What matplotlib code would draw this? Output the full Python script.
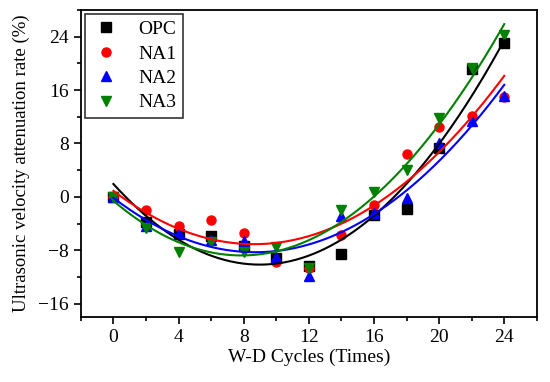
import numpy as np
import matplotlib.pyplot as plt
from matplotlib.ticker import MultipleLocator

plt.rcParams['font.family'] = ['Liberation Serif', 'DejaVu Serif']

# Données
cycles = [0, 2, 4, 6, 8, 10, 12, 14, 16, 18, 20, 22, 24]
opc = [0, -3.8, -5.5, -5.9, -7.4, -9.2, -10.3, -8.6, -2.7, -1.8, 7.3, 19.1, 23.1]
na1 = [0, -1.9, -4.4, -3.5, -5.4, -9.7, -10.7, -5.7, -1.2, 6.4, 10.4, 12.1, 15.0]
na2 = [0, -4.4, -5.4, -6.4, -6.6, -9.0, -11.9, -2.9, -2.4, -0.2, 8.1, 11.4, 15.1]
na3 = [0, -4.6, -8.2, -6.7, -8.2, -7.5, -10.7, -2.0, 0.8, 4.1, 11.8, 19.3, 24.3]

series = [
    ("OPC", opc, 's', 'black'),
    ("NA1", na1, 'o', 'red'),
    ("NA2", na2, '^', 'blue'),
    ("NA3", na3, 'v', 'green'),
]

fig = plt.figure(figsize=(5.5, 3.82), dpi=100)
ax = fig.add_axes([0.147, 0.170, 0.829, 0.804])

xs = np.linspace(0, 24, 200)
for nom, vals, m, c in series:
    ax.plot(cycles, vals, m, color=c, markersize=6.5, linestyle='none', label=nom)
for nom, vals, m, c in series:
    coef = np.polyfit(cycles, vals, 2)
    ax.plot(xs, np.polyval(coef, xs), color=c, linewidth=1.5)

ax.set_xlim(-2, 26)
ax.set_ylim(-18, 28)
ax.xaxis.set_major_locator(MultipleLocator(4))
ax.xaxis.set_minor_locator(MultipleLocator(2))
ax.yaxis.set_major_locator(MultipleLocator(8))
ax.yaxis.set_minor_locator(MultipleLocator(4))
ax.set_yticks([-16, -8, 0, 8, 16, 24])
ax.tick_params(which='both', direction='out', labelsize=14, width=1.2)
ax.tick_params(which='major', length=5)
ax.tick_params(which='minor', length=3)
for s in ax.spines.values():
    s.set_linewidth(1.3)

ax.set_xlabel("W-D Cycles (Times)", fontsize=14, labelpad=2)
ax.set_ylabel("Ultrasonic velocity attenuation rate (%)", fontsize=13.5, labelpad=6)

leg = ax.legend(loc='upper left', fontsize=14, frameon=True, fancybox=False,
                edgecolor='black', handletextpad=0.9, borderpad=0.35,
                labelspacing=0.35, handlelength=1.5, borderaxespad=0.2)
leg.get_frame().set_linewidth(1.2)

plt.savefig("out.png", dpi=100)
